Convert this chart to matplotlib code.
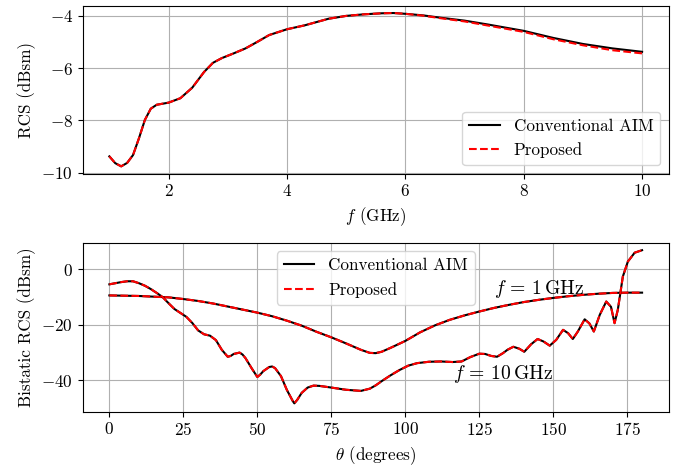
import matplotlib
matplotlib.use("Agg")
import matplotlib.pyplot as plt

plt.rcParams.update({
    "font.family": "serif",
    "font.serif": ["cmr10"],
    "mathtext.fontset": "cm",
    "axes.formatter.use_mathtext": True,
    "font.size": 12.3,
})

# ---- Top panel: monostatic RCS vs frequency ----
freq = [1.0, 1.1, 1.2, 1.3, 1.4, 1.5, 1.6, 1.7, 1.8, 1.9, 2.0, 2.2, 2.4, 2.6,
        2.75, 2.9, 3.1, 3.3, 3.5, 3.7, 4.0, 4.3, 4.7, 5.0, 5.3, 5.6, 5.8, 6.0,
        6.3, 6.6, 7.0, 7.4, 8.0, 8.5, 9.0, 9.5, 10.0]
rcs_conv = [-9.37, -9.63, -9.75, -9.62, -9.32, -8.68, -7.98, -7.55, -7.40, -7.36,
            -7.32, -7.15, -6.75, -6.15, -5.80, -5.62, -5.44, -5.25, -5.00, -4.74,
            -4.52, -4.37, -4.12, -4.01, -3.95, -3.91, -3.90, -3.93, -3.99, -4.08,
            -4.19, -4.34, -4.58, -4.85, -5.08, -5.25, -5.38]
rcs_prop = [-9.37, -9.63, -9.75, -9.62, -9.32, -8.68, -7.98, -7.55, -7.40, -7.36,
            -7.32, -7.15, -6.75, -6.15, -5.80, -5.62, -5.44, -5.25, -5.00, -4.74,
            -4.52, -4.37, -4.12, -4.01, -3.95, -3.91, -3.90, -3.93, -4.00, -4.10,
            -4.22, -4.38, -4.62, -4.90, -5.13, -5.32, -5.44]

# ---- Bottom panel: bistatic RCS vs angle ----
theta_1 = [0, 10, 20, 25, 30, 35, 40, 45, 50, 55, 60, 65, 70, 75, 80, 85, 88, 90,
           92, 95, 100, 105, 110, 115, 120, 125, 130, 135, 140, 145, 150, 155,
           160, 165, 170, 175, 180]
bis_1ghz = [-9.4, -9.6, -10.1, -10.7, -11.4, -12.3, -13.4, -14.5, -15.6, -16.9,
            -18.5, -20.3, -22.5, -24.5, -26.7, -29.0, -30.1, -30.2, -29.7, -28.3,
            -25.8, -22.7, -20.2, -18.2, -16.6, -15.2, -13.9, -12.8, -11.8, -11.0,
            -10.3, -9.7, -9.2, -8.8, -8.5, -8.4, -8.4]

theta_10 = [0, 2, 4, 6, 8, 10, 12, 14, 16, 18, 20, 22, 24, 26, 28, 30, 32, 34, 36,
            38, 40, 41, 42, 44, 45, 46, 48, 50, 51, 52, 54, 55, 56, 58, 60, 62,
            62.5, 63.5, 65, 67, 69, 71, 75, 80, 85, 88, 90, 92, 95, 98, 101, 104,
            108, 112, 116, 119, 122, 125, 127, 129, 131, 133, 134.5, 136.5, 138.5,
            140.2, 142.5, 144.7, 146.7, 148.8, 151, 153.3, 155, 156.6, 158.3,
            160.6, 162.2, 163.7, 165.7, 167.9, 169.5, 170.7, 171.8, 173.5, 175.2,
            177.5, 180]
bis_10ghz = [-5.4, -5.0, -4.6, -4.3, -4.3, -5.0, -5.9, -7.1, -8.5, -10.0, -12.2,
             -14.3, -15.7, -17.1, -19.3, -22.0, -23.4, -23.9, -25.5, -29.0, -31.5,
             -31.2, -30.5, -30.0, -30.7, -32.0, -35.5, -38.8, -37.9, -36.7, -35.2,
             -35.0, -35.6, -38.5, -43.5, -47.5, -48.3, -47.0, -44.5, -42.6, -41.9,
             -42.0, -42.6, -43.4, -43.8, -43.0, -41.8, -40.3, -38.2, -36.3, -34.7,
             -33.8, -33.3, -33.2, -33.4, -33.2, -31.6, -30.4, -30.5, -31.2, -31.5,
             -30.2, -29.0, -27.9, -28.6, -29.7, -27.0, -25.1, -26.0, -27.5, -25.4,
             -21.8, -23.0, -25.1, -22.4, -18.0, -19.5, -22.4, -16.4, -11.6, -13.5,
             -19.4, -14.6, -2.6, 2.8, 6.0, 6.9]

fig = plt.figure(figsize=(6.78, 4.66), dpi=100)
ax1 = fig.add_axes([0.122, 0.6273, 0.8643, 0.3605])
ax2 = fig.add_axes([0.122, 0.1165, 0.8643, 0.3627])

ax1.plot(freq, rcs_conv, color="black", lw=1.5, label="Conventional AIM")
ax1.plot(freq, rcs_prop, color="red", lw=1.5, ls="--", label="Proposed")
ax1.set_xlim(0.55, 10.45)
ax1.set_ylim(-10.03, -3.62)
ax1.set_xticks([2, 4, 6, 8, 10])
ax1.set_yticks([-10, -8, -6, -4])
ax1.set_xlabel(r"$f$ (GHz)")
ax1.set_ylabel("RCS (dBsm)")
ax1.grid(True)
ax1.legend(loc="lower right", handlelength=1.8)

ax2.plot(theta_1, bis_1ghz, color="black", lw=1.5, label="Conventional AIM")
ax2.plot(theta_1, bis_1ghz, color="red", lw=1.5, ls="--", label="Proposed")
ax2.plot(theta_10, bis_10ghz, color="black", lw=1.5)
ax2.plot(theta_10, bis_10ghz, color="red", lw=1.5, ls="--")
ax2.set_xlim(-9, 189)
ax2.set_ylim(-51.3, 9.6)
ax2.set_xticks([0, 25, 50, 75, 100, 125, 150, 175])
ax2.set_yticks([-40, -20, 0])
ax2.set_xlabel(r"$\theta$ (degrees)")
ax2.set_ylabel("Bistatic RCS (dBsm)")
ax2.grid(True)
ax2.legend(loc="upper center", handlelength=1.8)
ax2.text(130, -9.0, r"$f\,=\,1\,\mathrm{GHz}$", ha="left", va="baseline",
         fontsize=14.2)
ax2.text(116, -39.5, r"$f\,=\,10\,\mathrm{GHz}$", ha="left", va="baseline",
         fontsize=14.2)

fig.savefig("out.png", dpi=100)
